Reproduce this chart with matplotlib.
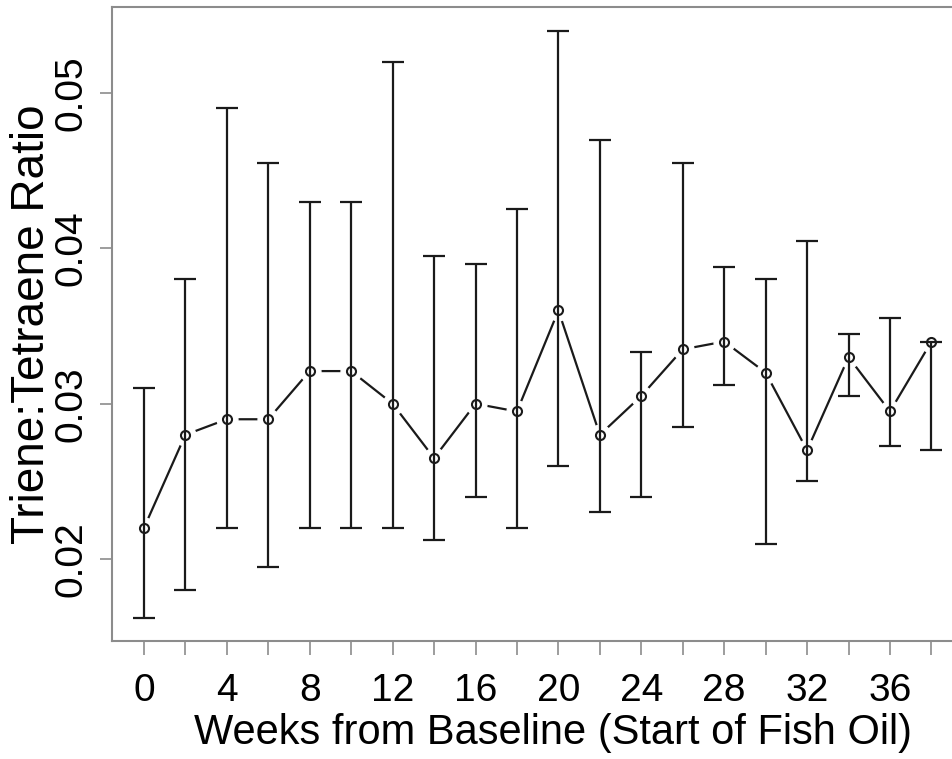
import matplotlib
matplotlib.use("Agg")
import matplotlib.pyplot as plt
import numpy as np

weeks = [0, 2, 4, 6, 8, 10, 12, 14, 16, 18, 20, 22, 24, 26, 28, 30, 32, 34, 36, 38]
mean = [0.0220, 0.0280, 0.0290, 0.0290, 0.0321, 0.0321, 0.0300, 0.0265, 0.0300, 0.0295,
        0.0360, 0.0280, 0.0305, 0.0335, 0.0340, 0.0320, 0.0270, 0.0330, 0.0295, 0.0340]
upper = [0.0310, 0.0380, 0.0490, 0.0455, 0.0430, 0.0430, 0.0520, 0.0395, 0.0390, 0.0425,
         0.0540, 0.0470, 0.0333, 0.0455, 0.0388, 0.0380, 0.0405, 0.0345, 0.0355, 0.0340]
lower = [0.0162, 0.0180, 0.0220, 0.0195, 0.0220, 0.0220, 0.0220, 0.0212, 0.0240, 0.0220,
         0.0260, 0.0230, 0.0240, 0.0285, 0.0312, 0.0210, 0.0250, 0.0305, 0.0273, 0.0270]
xtick_pos = list(range(0, 39, 2))
xtick_labels = [str(w) if w % 4 == 0 else "" for w in xtick_pos]
ytick_pos = [0.02, 0.03, 0.04, 0.05]
ytick_labels = ["0.02", "0.03", "0.04", "0.05"]

plt.rcParams['font.family'] = ['Liberation Sans', 'DejaVu Sans']

fig = plt.figure(figsize=(9.53, 7.59), dpi=100)
ax = fig.add_axes([112/953, 118/759, 1 - 112/953 + 0.01, (641-7)/759])

x = np.array(weeks)
m = np.array(mean)
u = np.array(upper)
l = np.array(lower)

ink = '#1a1a1a'
# connecting line with gaps at points (R type="b")
ax.plot(x, m, color=ink, lw=1.6, zorder=2)
ax.plot(x, m, 'o', ms=15, mfc='white', mec='white', zorder=3)
ax.errorbar(x, m, yerr=[m - l, u - m], fmt='none', ecolor=ink, elinewidth=1.6,
            capsize=8, capthick=1.6, zorder=4)
ax.plot(x, m, 'o', ms=6.5, mfc='none', mec=ink, mew=1.5, zorder=5)

ax.set_xlim(-1.54, 39.5)
ax.set_ylim(0.01473, 0.05553)

ax.set_xticks(xtick_pos)
ax.set_xticklabels(xtick_labels)
ax.set_yticks(ytick_pos)
ax.set_yticklabels(ytick_labels, rotation=90, va='center')

spine_c = '#8c8c8c'
for s in ['left', 'top', 'bottom']:
    ax.spines[s].set_color(spine_c)
    ax.spines[s].set_linewidth(1.5)
ax.spines['right'].set_visible(False)

ax.tick_params(axis='x', length=10, width=1.2, color=spine_c, pad=13, labelsize=28, labelcolor='black')
ax.tick_params(axis='y', length=9, width=1.2, color=spine_c, pad=7, labelsize=28, labelcolor='black')

ax.set_xlabel("Weeks from Baseline (Start of Fish Oil)", fontsize=30)
ax.set_ylabel("Triene:Tetraene Ratio", fontsize=33)
ax.xaxis.set_label_coords(0.518, -0.114)
ax.yaxis.set_label_coords(-0.0686, 0.50)

fig.savefig("out.png", dpi=100)
